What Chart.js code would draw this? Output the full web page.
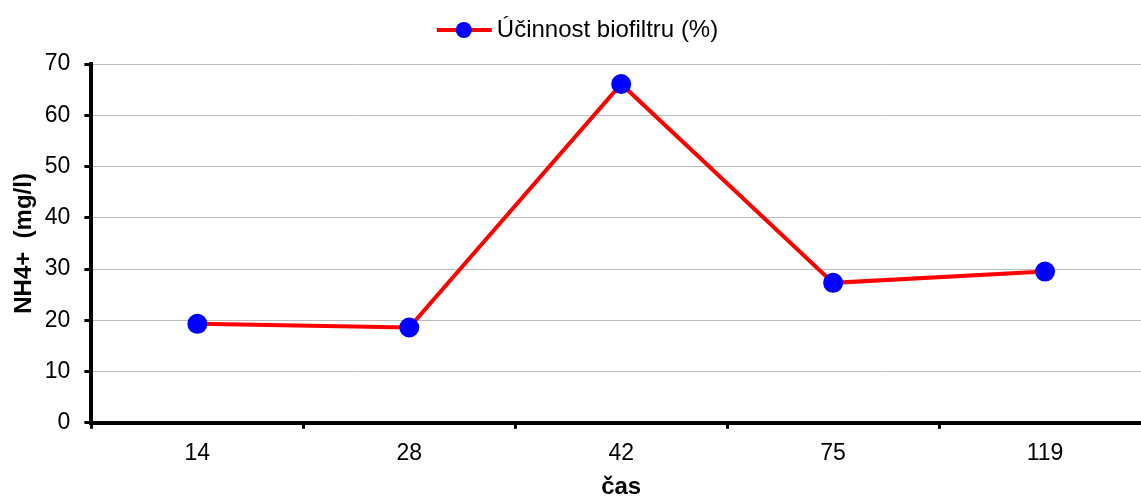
<!DOCTYPE html>
<html>
<head>
<meta charset="utf-8">
<script src="https://cdn.jsdelivr.net/npm/chart.js@4/dist/chart.umd.min.js"></script>
<style>
  body { margin: 0; background: #fff; overflow: hidden; }
  #wrap { width: 1163px; height: 497px; }
</style>
</head>
<body>
<div id="wrap"><canvas id="lineGraph"></canvas></div>
<script>
var categories = ['14', '28', '42', '75', '119'];
var ucinnost = [19.3, 18.6, 66.1, 27.3, 29.5];
var seriesName = 'Účinnost biofiltru (%)';

var ctx = document.getElementById('lineGraph').getContext('2d');
var chart = new Chart(ctx, {
    type: 'line',
    data: {
        labels: categories,
        datasets: [{
            label: seriesName,
            data: ucinnost,
            borderColor: '#ff0000',
            backgroundColor: '#0000ff',
            pointBackgroundColor: '#0000ff',
            pointBorderColor: '#0000ff',
            borderWidth: 4,
            pointRadius: 8,
            pointHoverRadius: 8,
            tension: 0
        }]
    },
    options: {
        responsive: true,
        maintainAspectRatio: false,
        animation: false,
        layout: { padding: { left: 10, right: 0, top: 6, bottom: 0 } },
        plugins: {
            legend: {
                position: 'top',
                labels: {
                    usePointStyle: false,
                    boxWidth: 48,
                    boxHeight: 16,
                    color: '#000',
                    font: { family: 'Liberation Sans, Arial', size: 24 },
                    padding: 12,
                    generateLabels: function (c) {
                        return [{
                            text: seriesName,
                            fillStyle: 'rgba(0,0,0,0)',
                            strokeStyle: 'rgba(0,0,0,0)',
                            lineWidth: 0,
                            datasetIndex: 0
                        }];
                    }
                }
            },
            tooltip: { enabled: false }
        },
        scales: {
            x: {
                offset: true,
                border: { display: true, color: '#000', width: 4 },
                grid: {
                    offset: true,
                    drawOnChartArea: false,
                    drawTicks: true,
                    tickLength: 6,
                    tickColor: '#000',
                    tickWidth: 3
                },
                ticks: {
                    color: '#000',
                    font: { family: 'Liberation Sans, Arial', size: 23, lineHeight: 1 },
                    padding: 13
                },
                title: {
                    display: true,
                    text: 'čas',
                    color: '#000',
                    font: { family: 'Liberation Sans, Arial', size: 24, weight: 'bold', lineHeight: 0.8 },
                    padding: { top: 0, bottom: 0 }
                }
            },
            y: {
                min: 0,
                max: 70,
                border: { display: true, color: '#000', width: 4 },
                grid: {
                    color: '#bdbdbd',
                    lineWidth: 1,
                    drawTicks: true,
                    tickLength: 7,
                    tickColor: '#000',
                    tickWidth: 3
                },
                ticks: {
                    stepSize: 10,
                    color: '#000',
                    font: { family: 'Liberation Sans, Arial', size: 23 },
                    padding: 14
                },
                title: {
                    display: true,
                    text: 'NH4+  (mg/l)',
                    color: '#000',
                    font: { family: 'Liberation Sans, Arial', size: 24, weight: 'bold' },
                    padding: { top: 0, bottom: -8 }
                }
            }
        }
    },
    plugins: [{
        // extra room under the legend + red line with blue dot as its marker
        id: 'legendLine',
        beforeLayout: function (c) {
            var lg = c.legend;
            if (lg && !lg._patched) {
                var f = lg.fit;
                lg.fit = function () { f.call(this); this.height += 12; };
                lg._patched = true;
            }
        },
        afterLayout: function (c) {
            // legend sits a bit left of the canvas centre
            if (c.legend) {
                c.legend.left -= 9;
                c.legend.right -= 9;
            }
        },
        afterDraw: function (c) {
            var lg = c.legend;
            if (!lg || !lg.legendHitBoxes.length) return;
            var box = lg.legendHitBoxes[0];
            var cy = box.top + box.height / 2;
            var g = c.ctx;
            g.save();
            g.strokeStyle = '#ff0000';
            g.lineWidth = 4;
            g.beginPath();
            g.moveTo(box.left, cy);
            g.lineTo(box.left + 55, cy);
            g.stroke();
            g.fillStyle = '#0000ff';
            g.beginPath();
            g.arc(box.left + 27, cy, 8, 0, Math.PI * 2);
            g.fill();
            g.restore();
        }
    }]
});
</script>
</body>
</html>
